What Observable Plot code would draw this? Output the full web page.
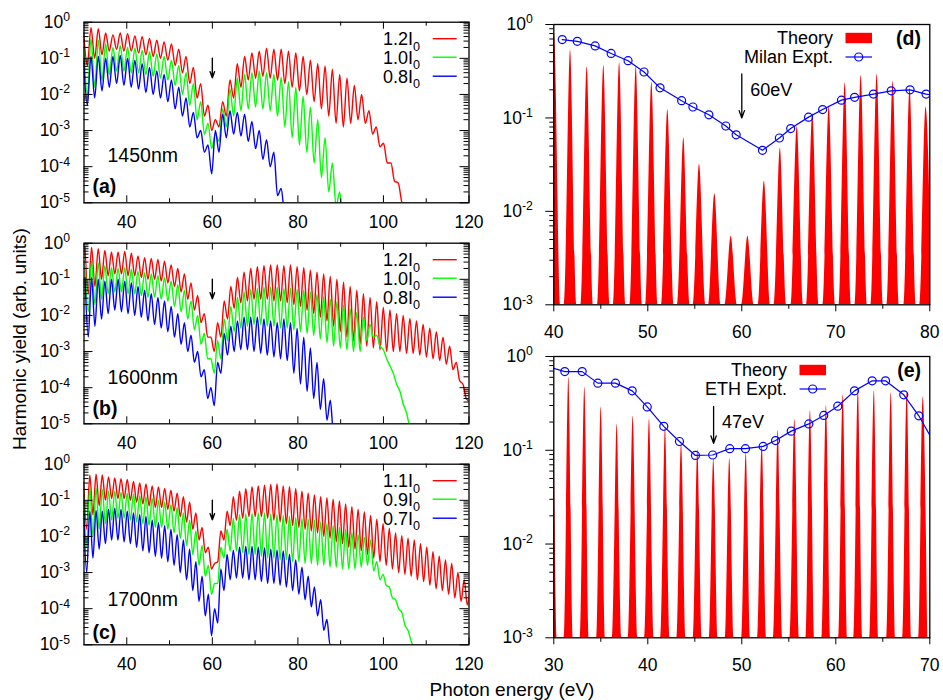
<!DOCTYPE html>
<html><head><meta charset="utf-8">
<script src="https://cdn.jsdelivr.net/npm/d3@7"></script>
<script src="https://cdn.jsdelivr.net/npm/@observablehq/plot@0.6"></script>
<style>
body{margin:0;background:#fff;}
#fig{position:relative;width:943px;height:700px;overflow:hidden;background:#fff;font-family:"Liberation Sans",Arial,Helvetica,sans-serif;}
#fig svg{position:absolute;}
.ytitle{position:absolute;left:20px;top:339px;transform:translate(-50%,-50%) rotate(-90deg);font-size:19px;white-space:nowrap;}
.xtitle{position:absolute;left:512px;top:690px;transform:translate(-50%,-50%);font-size:19px;white-space:nowrap;}
</style></head><body>
<div id="fig"><div class="ytitle">Harmonic yield (arb. units)</div><div class="xtitle">Photon energy (eV)</div></div>
<script>
const FONT = '"Liberation Sans", Arial, Helvetica, sans-serif';
const RED = "#ff0000", GREEN = "#00ff00", BLUE = "#0000ff";

// ---------- Left column: log10 yield at odd-harmonic peaks and at the troughs after them ----------
// (a) 1450 nm, photon energy 0.855 eV, first odd order 35
const photonA = 0.855, orderA = 35;
const aRedPeaks = [-0.3,-0.15,-0.18,-0.3,-0.35,-0.3,-0.32,-0.38,-0.4,-0.45,-0.5,-0.55,-0.6,-0.75,-0.95,-1.25,-1.7,-2.3,-2.7,-2.2,-1.6,-1.15,-0.95,-0.85,-0.8,-0.72,-0.75,-0.75,-0.8,-0.85,-0.95,-1.05,-1.15,-1.22,-1.3,-1.45,-1.55,-1.75,-2.0,-2.45,-2.9,-3.35,-3.9,-4.45,-5.2];
const aRedTroughs = [-1.2,-1.0,-0.9,-0.8,-0.75,-0.8,-0.8,-0.85,-0.9,-0.95,-1.0,-1.05,-1.2,-1.4,-1.7,-2.1,-2.6,-3.0,-2.9,-2.6,-2.1,-1.8,-1.6,-1.55,-1.5,-1.55,-1.6,-1.7,-1.8,-1.9,-2.0,-2.2,-2.4,-2.6,-2.8,-2.9,-2.8,-2.7,-2.8,-3.1,-3.45,-3.9,-4.4,-5.0,-5.6];
const aGreenPeaks = [-0.7,-0.45,-0.5,-0.6,-0.7,-0.65,-0.7,-0.72,-0.78,-0.82,-0.88,-0.95,-1.05,-1.2,-1.4,-1.7,-2.2,-2.8,-3.1,-2.4,-1.85,-1.55,-1.45,-1.4,-1.35,-1.4,-1.45,-1.52,-1.65,-1.8,-2.05,-2.35,-2.7,-3.2,-3.9,-4.7,-5.5];
const aGreenTroughs = [-2.0,-1.8,-1.6,-1.45,-1.35,-1.35,-1.4,-1.4,-1.45,-1.5,-1.55,-1.6,-1.75,-2.0,-2.3,-2.7,-3.1,-3.5,-3.3,-2.9,-2.6,-2.45,-2.4,-2.35,-2.4,-2.45,-2.6,-2.9,-3.2,-3.4,-3.6,-3.9,-4.3,-4.7,-5.1,-5.6,-6.0];
const aBluePeaks = [-1.1,-0.95,-0.95,-1.0,-0.95,-0.92,-1.0,-1.05,-1.15,-1.25,-1.35,-1.45,-1.6,-1.8,-2.1,-2.5,-3.0,-3.4,-3.0,-2.55,-2.45,-2.5,-2.55,-2.75,-3.0,-3.25,-3.6,-4.6,-5.5];
const aBlueTroughs = [-2.3,-2.1,-1.9,-1.8,-1.7,-1.75,-1.8,-1.85,-1.95,-2.0,-2.1,-2.2,-2.4,-2.6,-2.9,-3.2,-3.6,-4.2,-3.6,-3.2,-3.1,-3.15,-3.3,-3.5,-3.8,-4.0,-4.8,-5.4,-6.0];

// (b) 1600 nm, photon energy 0.775 eV, first odd order 39
const photonB = 0.775, orderB = 39;
const bRedPeaks = [-0.1,-0.12,-0.15,-0.2,-0.25,-0.25,-0.23,-0.28,-0.35,-0.4,-0.42,-0.45,-0.5,-0.6,-0.7,-0.85,-1.1,-1.45,-1.95,-2.6,-2.2,-1.6,-1.2,-0.95,-0.8,-0.7,-0.65,-0.62,-0.6,-0.6,-0.62,-0.6,-0.65,-0.68,-0.75,-0.8,-0.85,-0.92,-1.0,-1.08,-1.2,-1.3,-1.4,-1.5,-1.62,-1.78,-1.85,-1.95,-2.0,-2.08,-2.15,-2.25,-2.35,-2.45,-2.6,-2.85,-3.3,-3.9,-4.4];
const bRedTroughs = [-1.4,-1.2,-1.0,-0.9,-0.85,-0.85,-0.9,-0.9,-0.95,-1.0,-1.0,-1.05,-1.1,-1.2,-1.35,-1.55,-1.85,-2.2,-2.6,-3.0,-2.6,-2.1,-1.8,-1.65,-1.6,-1.55,-1.55,-1.55,-1.6,-1.6,-1.65,-1.7,-1.75,-1.85,-1.95,-2.05,-2.15,-2.3,-2.45,-2.6,-2.7,-2.8,-2.85,-2.9,-2.95,-3.0,-3.0,-3.0,-3.05,-3.05,-3.1,-3.15,-3.2,-3.25,-3.35,-3.5,-3.8,-4.3,-4.8];
const bGreenPeaks = [-0.5,-0.5,-0.55,-0.62,-0.68,-0.7,-0.68,-0.72,-0.78,-0.82,-0.85,-0.9,-0.95,-1.05,-1.15,-1.3,-1.6,-2.0,-2.5,-3.2,-2.7,-2.1,-1.75,-1.5,-1.35,-1.28,-1.25,-1.22,-1.22,-1.22,-1.25,-1.25,-1.28,-1.3,-1.35,-1.42,-1.48,-1.55,-1.62,-1.72,-1.82,-1.92,-2.05,-2.25,-2.55,-2.95,-3.4,-3.9,-4.45,-5.1];
const bGreenTroughs = [-1.9,-1.7,-1.55,-1.4,-1.35,-1.35,-1.4,-1.4,-1.45,-1.5,-1.5,-1.55,-1.6,-1.75,-1.9,-2.1,-2.4,-2.8,-3.2,-3.6,-3.2,-2.7,-2.45,-2.35,-2.3,-2.25,-2.25,-2.3,-2.3,-2.35,-2.35,-2.4,-2.45,-2.5,-2.55,-2.65,-2.75,-2.85,-2.9,-2.95,-3.0,-3.0,-2.7,-2.6,-2.85,-3.2,-3.6,-4.1,-4.7,-5.4];
const bBluePeaks = [-0.95,-0.95,-1.0,-1.05,-1.0,-1.0,-1.05,-1.1,-1.2,-1.3,-1.4,-1.5,-1.6,-1.75,-1.95,-2.2,-2.55,-3.0,-3.5,-4.0,-3.3,-2.5,-2.3,-2.15,-2.05,-2.05,-2.05,-2.1,-2.15,-2.2,-2.1,-2.2,-2.35,-2.6,-2.9,-3.3,-3.75,-4.35,-5.1];
const bBlueTroughs = [-2.6,-2.3,-2.1,-1.95,-1.85,-1.9,-1.95,-2.0,-2.05,-2.15,-2.25,-2.35,-2.45,-2.6,-2.8,-3.0,-3.3,-3.7,-4.3,-4.5,-3.6,-3.1,-3.0,-2.95,-2.95,-3.0,-3.05,-3.1,-3.15,-3.2,-3.25,-3.6,-3.9,-4.1,-4.3,-4.6,-4.9,-5.3,-5.8];

// (c) 1700 nm, photon energy 0.7293 eV, first odd order 41
const photonC = 0.7293, orderC = 41;
const cRedPeaks = [-0.5,-0.3,-0.28,-0.3,-0.35,-0.38,-0.4,-0.42,-0.48,-0.52,-0.55,-0.6,-0.63,-0.67,-0.72,-0.8,-0.9,-1.05,-1.35,-1.75,-2.3,-2.75,-1.85,-1.3,-0.9,-0.75,-0.68,-0.62,-0.6,-0.58,-0.56,-0.55,-0.6,-0.62,-0.68,-0.75,-0.8,-0.85,-0.9,-0.93,-0.97,-1.02,-1.1,-1.18,-1.25,-1.32,-1.42,-1.52,-1.65,-1.78,-1.9,-1.98,-2.05,-2.1,-2.2,-2.3,-2.42,-2.55,-2.65,-2.75,-3.0,-3.2,-3.5];
const cRedTroughs = [-1.8,-1.4,-1.15,-1.0,-0.95,-0.95,-0.95,-1.0,-1.05,-1.1,-1.15,-1.2,-1.2,-1.25,-1.3,-1.45,-1.6,-1.8,-2.1,-2.45,-2.9,-2.7,-2.1,-1.7,-1.55,-1.5,-1.45,-1.45,-1.45,-1.5,-1.55,-1.6,-1.65,-1.7,-1.75,-1.8,-1.85,-1.9,-2.0,-2.05,-2.15,-2.2,-2.3,-2.35,-2.4,-2.5,-2.6,-2.7,-2.8,-2.9,-3.0,-3.05,-3.1,-3.2,-3.25,-3.35,-3.45,-3.5,-3.6,-3.7,-3.8,-3.9,-4.0];
const cGreenPeaks = [-0.85,-0.65,-0.65,-0.7,-0.75,-0.75,-0.78,-0.8,-0.83,-0.87,-0.9,-0.95,-1.0,-1.05,-1.12,-1.2,-1.35,-1.55,-1.85,-2.25,-2.8,-3.3,-2.3,-1.8,-1.5,-1.4,-1.38,-1.36,-1.35,-1.35,-1.38,-1.4,-1.42,-1.45,-1.48,-1.5,-1.52,-1.55,-1.6,-1.65,-1.7,-1.75,-1.8,-1.88,-1.95,-2.02,-2.1,-2.7,-3.05,-3.4,-3.75,-4.1,-4.6,-5.1];
const cGreenTroughs = [-2.3,-2.0,-1.8,-1.65,-1.55,-1.5,-1.5,-1.55,-1.6,-1.65,-1.7,-1.75,-1.75,-1.8,-1.9,-2.05,-2.25,-2.5,-2.8,-3.1,-3.6,-3.3,-2.6,-2.4,-2.4,-2.45,-2.5,-2.5,-2.55,-2.6,-2.6,-2.65,-2.65,-2.7,-2.7,-2.75,-2.75,-2.8,-2.8,-2.85,-2.85,-2.9,-2.9,-2.9,-2.85,-2.8,-2.95,-3.2,-3.35,-3.7,-4.0,-4.45,-4.9,-5.5];
const cBluePeaks = [-1.3,-1.3,-1.28,-1.3,-1.25,-1.22,-1.25,-1.3,-1.35,-1.4,-1.45,-1.55,-1.62,-1.7,-1.8,-1.95,-2.1,-2.35,-2.7,-3.1,-3.6,-4.0,-2.9,-2.5,-2.38,-2.3,-2.28,-2.28,-2.3,-2.32,-2.35,-2.38,-2.4,-2.5,-2.65,-2.85,-3.1,-3.4,-3.75,-4.3,-5.0];
const cBlueTroughs = [-3.0,-2.6,-2.35,-2.2,-2.1,-2.1,-2.15,-2.2,-2.3,-2.4,-2.45,-2.55,-2.6,-2.7,-2.8,-3.0,-3.2,-3.5,-3.8,-4.2,-4.75,-4.4,-3.5,-3.2,-3.15,-3.15,-3.2,-3.2,-3.25,-3.3,-3.3,-3.35,-3.4,-3.5,-3.6,-3.75,-3.95,-4.2,-4.6,-5.0,-5.6];

// legends / labels of the left column
const legendA = ["1.2", "1.0", "0.8"];
const legendB = ["1.2", "1.0", "0.8"];
const legendC = ["1.1", "0.9", "0.7"];
const wavelengths = ["1450nm", "1600nm", "1700nm"];
const tags = ["(a)", "(b)", "(c)"];
const leftArrow = {x: 60, y1: 10 ** -1.0, y2: 10 ** -1.54};

// ---------- Right column ----------
const dTheoryE = [40.07,41.78,43.55,45.32,47.0,48.77,50.43,52.13,53.83,55.5,57.13,58.87,60.65,62.4,64.1,65.9,67.55,69.3,71.0,72.7,74.4,76.1,77.9,79.6];
const dTheoryY = [0.80,0.53,0.35,0.365,0.39,0.35,0.24,0.122,0.061,0.032,0.0154,0.0054,0.0054,0.021,0.0475,0.081,0.111,0.133,0.236,0.285,0.292,0.246,0.206,0.13];
const dExptE = [40.9,42.5,44.4,46.1,47.9,49.6,51.3,53.6,54.8,56.5,58.3,59.4,62.2,64.0,65.2,67.1,68.6,70.6,72.0,74.0,75.9,77.9,79.6,81.3];
const dExptY = [0.69,0.66,0.59,0.49,0.41,0.31,0.21,0.153,0.131,0.108,0.082,0.066,0.045,0.061,0.077,0.102,0.123,0.155,0.166,0.18,0.195,0.20,0.18,0.17];
const eTheoryE = [29.9,31.6,33.3,35.04,36.74,38.44,40.18,41.88,43.59,45.32,47.02,48.72,50.47,52.17,53.87,55.64,57.3,59.0,60.79,62.4,64.1,65.9,67.6,69.3];
const eTheoryY = [0.43,0.60,0.47,0.29,0.19,0.23,0.216,0.176,0.117,0.101,0.080,0.081,0.093,0.112,0.163,0.213,0.265,0.30,0.39,0.45,0.43,0.41,0.42,0.37];
const eExptE = [29.4,31.17,33.02,34.68,36.56,38.34,39.94,41.7,43.37,45.07,46.9,48.72,50.39,52.27,53.59,55.26,57.13,58.72,60.21,61.99,63.87,65.29,67.23,68.83,70.5];
const eExptY = [0.78,0.69,0.69,0.52,0.52,0.43,0.29,0.18,0.124,0.088,0.089,0.104,0.104,0.110,0.127,0.16,0.191,0.235,0.295,0.43,0.55,0.55,0.39,0.233,0.118];
const dArrow = {x: 60, y1: 10 ** -0.53, y2: 10 ** -1.0, label: "60eV", lx: 60.9, ly: 10 ** -0.706};
const eArrow = {x: 47, y1: 10 ** -0.533, y2: 10 ** -0.925, label: "47eV", lx: 47.9, ly: 10 ** -0.70};

// ---------- helpers ----------
const fig = document.getElementById("fig");
const SVGNS = "http://www.w3.org/2000/svg";

function spectrum(photon, order0, peaks, troughs) {
  const out = [];
  peaks.forEach((p, i) => {
    const e = photon * (order0 + 2 * i);
    out.push({e, v: 10 ** p});
    if (i < troughs.length) out.push({e: e + photon, v: 10 ** troughs[i]});
  });
  return out;
}
function peakShapes(E, Y, hw, base) {
  const pts = [];
  E.forEach((e, i) => { pts.push({e: e - hw, v: base}, {e, v: Y[i]}, {e: e + hw, v: base}); });
  return pts;
}
function richify(svg) {
  svg.querySelectorAll("text").forEach(t => {
    if (t.children.length) return;
    const s = t.textContent, k = s.indexOf("^");
    if (k < 0) return;
    t.textContent = s.slice(0, k);
    const ts = document.createElementNS(SVGNS, "tspan");
    ts.setAttribute("font-size", "0.7em");
    ts.setAttribute("dy", "-0.55em");
    ts.textContent = s.slice(k + 1);
    t.appendChild(ts);
  });
}
const decFmt = d => "10^" + Math.round(Math.log10(d));
const minorsOf = decs => decs.flatMap(d => [2,3,4,5,6,7,8,9].map(k => k * d));

// ---------- left panels ----------
const L = {W: 480, H: 230, ml: 83.5, mr: 11.5, mt: 21.7, mb: 27.7};
const xMajL = [40, 60, 80, 100, 120], xMinL = [50, 70, 90, 110];
const decL = [1e-5, 1e-4, 1e-3, 1e-2, 1e-1, 1];
const minL = minorsOf(decL.slice(0, -1));

function leftPanel(top, series, legend, wl, tag, wlDy, tagDy) {
  const fw = L.W - L.ml - L.mr, fh = L.H - L.mt - L.mb;
  const marks = series.map(s => Plot.line(s.data, {x: "e", y: "v", stroke: s.color, strokeWidth: 1.4, curve: "monotone-x", clip: true}));
  marks.push(
    Plot.ruleX(xMajL, {x: d => d, insetTop: fh - 7, stroke: "black"}),
    Plot.ruleX(xMajL, {x: d => d, insetBottom: fh - 7, stroke: "black"}),
    Plot.ruleX(xMinL, {x: d => d, insetTop: fh - 4, stroke: "black"}),
    Plot.ruleX(xMinL, {x: d => d, insetBottom: fh - 4, stroke: "black"}),
    Plot.ruleY(decL, {y: d => d, insetRight: fw - 9, stroke: "black"}),
    Plot.ruleY(decL, {y: d => d, insetLeft: fw - 9, stroke: "black"}),
    Plot.ruleY(minL, {y: d => d, insetRight: fw - 5, stroke: "black"}),
    Plot.ruleY(minL, {y: d => d, insetLeft: fw - 5, stroke: "black"}),
    Plot.arrow([leftArrow], {x1: "x", x2: "x", y1: "y1", y2: "y2", stroke: "black", strokeWidth: 1.4, headLength: 9, headAngle: 40}),
    Plot.text([wl], {text: d => d, frameAnchor: "bottom-left", dx: 23.5, dy: wlDy, lineAnchor: "middle", textAnchor: "start", fontSize: 19.5}),
    Plot.text([tag], {text: d => d, frameAnchor: "bottom-left", dx: 8.5, dy: tagDy, lineAnchor: "middle", textAnchor: "start", fontSize: 19.5, fontWeight: "bold"}),
    Plot.frame({stroke: "black", strokeWidth: 1.3})
  );
  const svg = Plot.plot({
    width: L.W, height: L.H, marginLeft: L.ml, marginRight: L.mr, marginTop: L.mt, marginBottom: L.mb,
    style: {fontFamily: FONT, fontSize: "17.5px", background: "none", overflow: "visible", color: "black"},
    x: {domain: [30, 120], ticks: xMajL, tickSize: 0, tickPadding: 13, tickFormat: d => String(d), label: null},
    y: {type: "log", domain: [1e-5, 1], ticks: decL, tickSize: 0, tickPadding: 14, tickFormat: decFmt, label: null},
    marks
  });
  richify(svg);
  // legend
  const g = d3.select(svg).append("g").attr("font-size", 18).attr("font-family", FONT);
  const rows = [17, 35.5, 54.5];
  legend.forEach((lab, i) => {
    const y = L.mt + rows[i];
    const t = g.append("text").attr("x", 420).attr("y", y).attr("dy", "0.36em").attr("text-anchor", "end").attr("fill", "black");
    t.append("tspan").text(lab + "I");
    t.append("tspan").attr("font-size", "0.7em").attr("dy", "0.45em").text("0");
    g.append("line").attr("x1", 432.7).attr("x2", 456.7).attr("y1", y).attr("y2", y)
      .attr("stroke", series[i].color).attr("stroke-width", 1.4);
  });
  svg.style.left = "0px"; svg.style.top = top + "px";
  fig.appendChild(svg);
}

leftPanel(0, [
  {data: spectrum(photonA, orderA, aRedPeaks, aRedTroughs), color: RED},
  {data: spectrum(photonA, orderA, aGreenPeaks, aGreenTroughs), color: GREEN},
  {data: spectrum(photonA, orderA, aBluePeaks, aBlueTroughs), color: BLUE}
], legendA, wavelengths[0], tags[0], -47.3, -16.5);
leftPanel(221, [
  {data: spectrum(photonB, orderB, bRedPeaks, bRedTroughs), color: RED},
  {data: spectrum(photonB, orderB, bGreenPeaks, bGreenTroughs), color: GREEN},
  {data: spectrum(photonB, orderB, bBluePeaks, bBlueTroughs), color: BLUE}
], legendB, wavelengths[1], tags[1], -45.7, -15);
leftPanel(442.3, [
  {data: spectrum(photonC, orderC, cRedPeaks, cRedTroughs), color: RED},
  {data: spectrum(photonC, orderC, cGreenPeaks, cGreenTroughs), color: GREEN},
  {data: spectrum(photonC, orderC, cBluePeaks, cBlueTroughs), color: BLUE}
], legendC, wavelengths[2], tags[2], -45, -12.5);

// ---------- right panels ----------
const R = {W: 463, H: 330, ml: 73.3, mr: 13.7, mt: 24};
const decR = [1e-3, 1e-2, 1e-1, 1];
const minR = minorsOf(decR.slice(0, -1));
const peakBase = 1e-3;

function rightPanel(top, mb, cfg) {
  const fw = R.W - R.ml - R.mr, fh = R.H - R.mt - mb;
  const theory = peakShapes(cfg.tE, cfg.tY, cfg.hw, peakBase);
  const expt = cfg.xE.map((e, i) => ({e, v: cfg.xY[i]}));
  const svg = Plot.plot({
    width: R.W, height: R.H, marginLeft: R.ml, marginRight: R.mr, marginTop: R.mt, marginBottom: mb,
    style: {fontFamily: FONT, fontSize: "17.5px", background: "none", overflow: "visible", color: "black"},
    x: {domain: cfg.domain, ticks: cfg.xMaj, tickSize: 0, tickPadding: 20.6, tickFormat: d => String(d), label: null},
    y: {type: "log", domain: [1e-3, 1], ticks: decR, tickSize: 0, tickPadding: 21, tickFormat: decFmt, label: null},
    marks: [
      Plot.areaY(theory, {x: "e", y1: () => peakBase, y2: "v", fill: RED, curve: "monotone-x", clip: true}),
      Plot.line(expt, {x: "e", y: "v", stroke: BLUE, strokeWidth: 1.2, clip: true}),
      Plot.dot(expt, {x: "e", y: "v", r: 4, stroke: BLUE, strokeWidth: 1.2, fill: "none", clip: true}),
      Plot.ruleX(cfg.xMaj, {x: d => d, insetTop: fh, insetBottom: -7, stroke: "black"}),
      Plot.ruleX(cfg.xMin, {x: d => d, insetTop: fh, insetBottom: -4.5, stroke: "black"}),
      Plot.ruleY(decR, {y: d => d, insetRight: fw, insetLeft: -8, stroke: "black"}),
      Plot.ruleY(minR, {y: d => d, insetRight: fw, insetLeft: -4, stroke: "black"}),
      Plot.arrow([cfg.arrow], {x1: "x", x2: "x", y1: "y1", y2: "y2", stroke: "black", strokeWidth: 1.3, headLength: 9, headAngle: 40}),
      Plot.text([cfg.arrow], {x: "lx", y: "ly", text: "label", textAnchor: "start", fontSize: 18}),
      Plot.frame({stroke: "black", strokeWidth: 1.3})
    ]
  });
  richify(svg);
  const g = d3.select(svg).append("g").attr("font-size", 18).attr("font-family", FONT).attr("fill", "black");
  const lx = cfg.legX, y1 = 38, y2 = 57;
  g.append("text").attr("x", lx).attr("y", y1).attr("dy", "0.36em").attr("text-anchor", "end").text("Theory");
  g.append("rect").attr("x", lx + 12.5).attr("y", y1 - 5.2).attr("width", 26.5).attr("height", 10.4).attr("fill", RED);
  g.append("text").attr("x", lx).attr("y", y2).attr("dy", "0.36em").attr("text-anchor", "end").text(cfg.exptName);
  g.append("line").attr("x1", lx + 12.5).attr("x2", lx + 39).attr("y1", y2).attr("y2", y2).attr("stroke", BLUE).attr("stroke-width", 1.2);
  g.append("circle").attr("cx", lx + 25.7).attr("cy", y2).attr("r", 4).attr("fill", "none").attr("stroke", BLUE).attr("stroke-width", 1.2);
  g.append("text").attr("x", 441).attr("y", y1).attr("dy", "0.36em").attr("text-anchor", "end").attr("font-weight", "bold").attr("font-size", 19.5).text(cfg.tag);
  svg.style.left = "480px"; svg.style.top = top + "px";
  fig.appendChild(svg);
}

rightPanel(0, 25.7, {
  domain: [40, 80], xMaj: [40, 50, 60, 70, 80], xMin: [45, 55, 65, 75],
  tE: dTheoryE, tY: dTheoryY, hw: 0.66, xE: dExptE, xY: dExptY,
  arrow: dArrow, exptName: "Milan Expt.", legX: 353, tag: "(d)"
});
rightPanel(332, 24.7, {
  domain: [30, 70], xMaj: [30, 40, 50, 60, 70], xMin: [35, 45, 55, 65],
  tE: eTheoryE, tY: eTheoryY, hw: 0.48, xE: eExptE, xY: eExptY,
  arrow: eArrow, exptName: "ETH Expt.", legX: 307, tag: "(e)"
});
</script>
</body></html>
